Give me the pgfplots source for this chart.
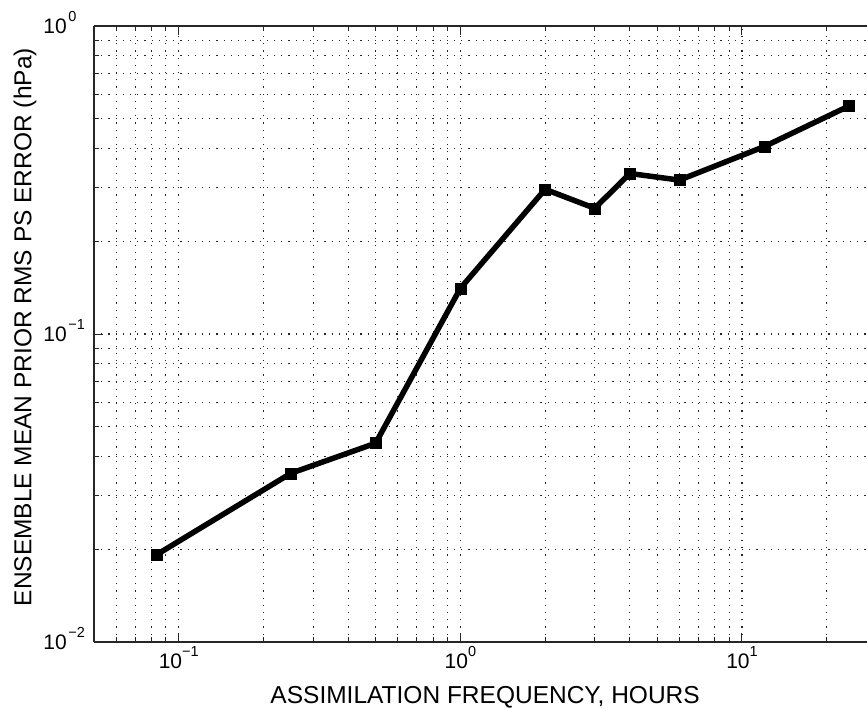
\documentclass[border=0pt]{standalone}
\usepackage{fontspec}
\setmainfont{Liberation Sans}
\usepackage{pgfplots}
\pgfplotsset{compat=1.18}
\newcommand{\tenp}[1]{10\raisebox{12bp}{\fontsize{14.5bp}{14.5bp}\selectfont #1}}
\newcommand{\tenl}[1]{10\rlap{\raisebox{12bp}{\fontsize{14.5bp}{14.5bp}\selectfont\hspace{1.5bp}#1}}}
\begin{document}
\begin{tikzpicture}
\begin{axis}[
  xmode=log, ymode=log,
  scale only axis, width=773bp, height=616bp,
  xmin=0.05, xmax=27.8, ymin=0.01, ymax=1,
  axis y line*=left,
  axis line style={line width=1.3bp, black!85},
  xtick={0.1,1,10},
  xticklabels={\tenp{−1},\tenp{0},\tenp{1}},
  ytick={0.01,0.1,1},
  yticklabels={\tenl{−2},\tenl{−1},\tenl{0}},
  minor xtick={0.06,0.07,0.08,0.09,0.2,0.3,0.4,0.5,0.6,0.7,0.8,0.9,2,3,4,5,6,7,8,9,20},
  minor ytick={0.02,0.03,0.04,0.05,0.06,0.07,0.08,0.09,0.2,0.3,0.4,0.5,0.6,0.7,0.8,0.9},
  grid=both,
  major grid style={black!85, line width=1.1bp, dash pattern=on 1.2bp off 6bp},
  minor grid style={black!85, line width=1.1bp, dash pattern=on 1.2bp off 6bp},
  major tick length=9bp, minor tick length=5bp,
  every tick/.style={black!85, line width=1bp},
  tick label style={font=\fontsize{21bp}{24bp}\selectfont},
  xticklabel style={anchor=base, yshift=-26bp, inner sep=0pt},
  yticklabel style={anchor=base east, xshift=-27bp, yshift=-7.5bp, inner sep=0pt},
  every axis x label/.style={at={(axis description cs:0.506,-0.1006)}, anchor=base, font=\fontsize{24.5bp}{29bp}\selectfont},
  every axis y label/.style={at={(axis description cs:-0.0893,0.511)}, rotate=90, anchor=center, font=\fontsize{24.5bp}{29bp}\selectfont},
  xlabel={ASSIMILATION FREQUENCY, HOURS},
  ylabel={ENSEMBLE MEAN PRIOR RMS PS ERROR (hPa)},
]
\addplot[black, line width=5.5bp, mark=square*, mark size=5.5bp, mark options={solid, line width=0.5bp}] coordinates {
  (0.08333,0.0192)
  (0.25,0.0353)
  (0.5,0.0442)
  (1,0.1407)
  (2,0.295)
  (3,0.256)
  (4,0.332)
  (6,0.316)
  (12,0.406)
  (24,0.550)
};
\coordinate (SW) at (rel axis cs:0,0);
\coordinate (NE) at (rel axis cs:1,1);
\end{axis}
\pgfresetboundingbox
\path[use as bounding box] ([shift={(-94bp,-67bp)}]SW) rectangle ([shift={(0bp,26bp)}]NE);
\end{tikzpicture}
\end{document}
